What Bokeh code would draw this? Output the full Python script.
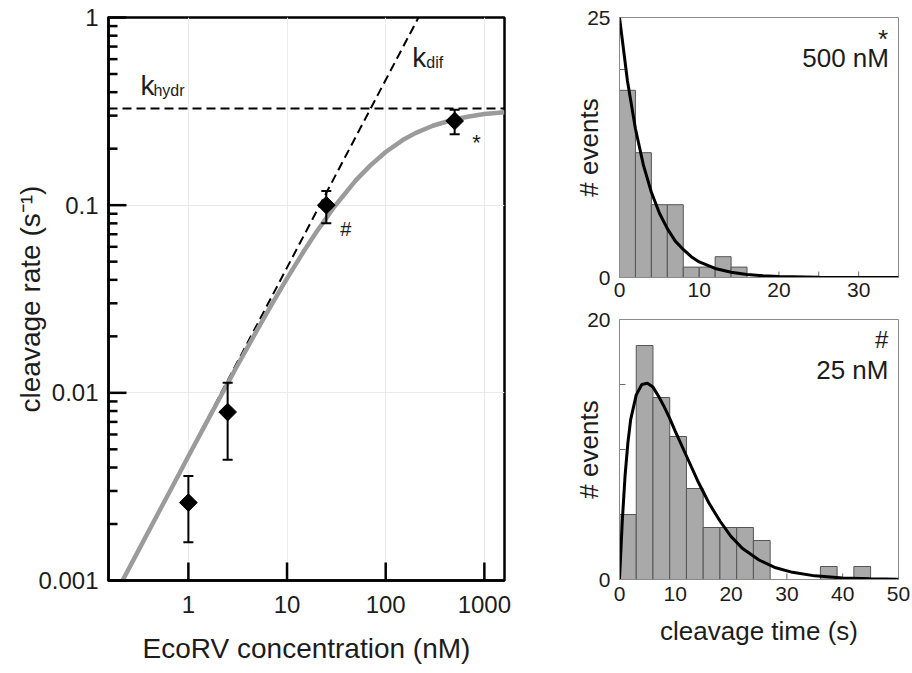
import numpy as np
from bokeh.plotting import figure
from bokeh.layouts import row, column
from bokeh.models import (Range1d, FixedTicker, CustomJSTickFormatter, Whisker,
                          TeeHead, Span, ColumnDataSource, Label)
from bokeh.embed import file_html
from bokeh.resources import INLINE

# ---------------- data ----------------
# left panel: cleavage rate vs EcoRV concentration
conc_nM = [1.0, 2.5, 25.0, 500.0]
rate = [0.0026, 0.0079, 0.100, 0.281]
rate_lo = [0.0016, 0.0044, 0.080, 0.239]
rate_hi = [0.0036, 0.0113, 0.119, 0.322]
k_hydr = 0.327
kdif_conc = [1.0, 215.0]
kdif_rate = [0.00465, 1.0]
fit_conc = [0.2, 0.3, 0.5, 0.7, 1, 1.5, 2, 3, 5, 7, 10, 15, 20, 30, 50, 70,
            100, 150, 200, 300, 500, 700, 1000, 1600]
fit_rate = [0.00093, 0.00139, 0.00231, 0.00322, 0.00459, 0.00683, 0.00905,
            0.0134, 0.0217, 0.0296, 0.0407, 0.0575, 0.0724, 0.0978, 0.136,
            0.163, 0.192, 0.223, 0.242, 0.265, 0.287, 0.297, 0.306, 0.313]
left_yticks = [0.001, 0.01, 0.1, 1]
left_yminor = [m * 10.0 ** d for d in (-3, -2, -1) for m in range(2, 10)]
left_xticks = [1, 10, 100, 1000]

# top-right histogram: 500 nM
h500_edges = [0, 2, 4, 6, 8, 10, 12, 14, 16]
h500_counts = [18, 12, 7, 7, 1, 1, 2, 1]
h500_fit_t = [0, 1, 2, 3, 4, 5, 6, 7, 8, 9, 10, 12, 14, 16, 18, 20, 25, 30, 35]
h500_fit_n = [25, 18.9, 14.3, 10.8, 8.2, 6.2, 4.7, 3.5, 2.7, 2.0, 1.5, 0.87,
              0.5, 0.28, 0.16, 0.09, 0.02, 0.005, 0.001]
h500_xticks = [0, 10, 20, 30]
h500_xminor = [5, 10, 15, 20, 25, 30]
h500_yticks = [0, 25]
h500_yminor = [5, 10, 15, 20]

# bottom-right histogram: 25 nM
h25_edges = [0, 3, 6, 9, 12, 15, 18, 21, 24, 27, 30, 33, 36, 39, 42, 45]
h25_counts = [5, 18, 14, 11, 7, 4, 4, 4, 3, 0, 0, 0, 1, 0, 1]
h25_fit_t = [0, 0.5, 1, 1.5, 2, 3, 4, 5, 6, 7, 8, 9, 10, 12, 14, 16, 18, 20,
             22, 25, 28, 31, 35, 40, 45, 50]
h25_fit_n = [0, 4.5, 8.0, 10.5, 12.3, 14.2, 15.0, 15.1, 14.8, 14.1, 13.3, 12.4,
             11.4, 9.5, 7.6, 5.9, 4.5, 3.3, 2.4, 1.5, 0.9, 0.55, 0.28, 0.12,
             0.05, 0.02]
h25_xticks = [0, 10, 20, 30, 40, 50]
h25_xminor = [10, 20, 30, 40]
h25_yticks = [0, 20]
h25_yminor = [5, 10, 15]

FONT = "Liberation Sans"
TXT = "#1c1c1c"

# ---------------- left panel ----------------
FRAME_W, FRAME_H = 396, 563
XR = Range1d(0.155, 1600)
YR = Range1d(0.001, 1)
p = figure(width=556, height=673, x_axis_type="log", y_axis_type="log",
           x_range=XR, y_range=YR,
           output_backend="svg", toolbar_location=None,
           min_border_left=108, min_border_right=52, min_border_top=17,
           min_border_bottom=93)
p.background_fill_color = "white"
p.border_fill_color = "white"
p.outline_line_color = "black"
p.outline_line_width = 2.5

p.yaxis.ticker = FixedTicker(ticks=left_yticks, minor_ticks=[])
p.xaxis.ticker = FixedTicker(ticks=left_xticks, minor_ticks=[])
p.yaxis.formatter = CustomJSTickFormatter(code="return String(tick);")
p.xaxis.formatter = CustomJSTickFormatter(code="return String(tick);")

for ax in (p.xaxis[0], p.yaxis[0]):
    ax.axis_line_color = "black"
    ax.axis_line_width = 2.5
    ax.major_tick_line_color = None
    ax.minor_tick_line_color = None
    ax.major_tick_in = 0
    ax.major_tick_out = 0
    ax.minor_tick_in = 0
    ax.minor_tick_out = 0
    ax.major_label_text_font = FONT
    ax.major_label_text_font_size = "24px"
    ax.major_label_text_color = TXT
    ax.axis_label_text_font = FONT
    ax.axis_label_text_font_size = "28px"
    ax.axis_label_text_font_style = "normal"
    ax.axis_label_text_color = TXT

p.xaxis.axis_label = "EcoRV concentration (nM)"
p.yaxis.axis_label = "cleavage rate (s\u207b\u00b9)"
p.xaxis.major_label_standoff = 15
p.yaxis.major_label_standoff = 10
p.xaxis.axis_label_standoff = 17
p.yaxis.axis_label_standoff = -11

p.xgrid.grid_line_color = "#ebebeb"
p.ygrid.grid_line_color = "#ebebeb"

# inward tick marks as short segments starting just outside the frame edge
px_per_dec_x = FRAME_W / np.log10(XR.end / XR.start)
px_per_dec_y = FRAME_H / np.log10(YR.end / YR.start)


def xfac(px):
    return 10 ** (px / px_per_dec_x)


def yfac(px):
    return 10 ** (px / px_per_dec_y)


x_out = XR.start / xfac(1)
p.segment(x0=[x_out] * len(left_yticks), y0=left_yticks,
          x1=[XR.start * xfac(18)] * len(left_yticks), y1=left_yticks,
          line_color="black", line_width=2.5, level="overlay")
p.segment(x0=[x_out] * len(left_yminor), y0=left_yminor,
          x1=[XR.start * xfac(9)] * len(left_yminor), y1=left_yminor,
          line_color="black", line_width=2.5, level="overlay")
p.segment(x0=left_xticks, y0=[YR.start] * len(left_xticks),
          x1=left_xticks, y1=[YR.start * yfac(18)] * len(left_xticks),
          line_color="black", line_width=2.5)

# k_dif asymptote (dashed)
p.line(kdif_conc, kdif_rate, line_color="black", line_width=2, line_dash="9 5")
# k_hydr asymptote (dashed)
p.add_layout(Span(location=k_hydr, dimension="width", line_color="black",
                  line_width=2, line_dash="9 5", level="glyph"))
# fit curve
p.line(fit_conc, fit_rate, line_color="#9b9b9b", line_width=4.5)

src = ColumnDataSource(dict(x=conc_nM, y=rate, lo=rate_lo, hi=rate_hi))
p.add_layout(Whisker(base="x", lower="lo", upper="hi", source=src,
                     line_color="black", line_width=2, level="glyph",
                     upper_head=TeeHead(size=10, line_width=2, line_color="black"),
                     lower_head=TeeHead(size=10, line_width=2, line_color="black")))
p.scatter("x", "y", source=src, marker="square", angle=np.pi / 4, size=12.5,
          fill_color="black", line_color="black")


def lab(fig, x, y, text, size, align="left"):
    fig.add_layout(Label(x=x, y=y, text=text, text_font=FONT,
                         text_font_size=size, text_color=TXT,
                         text_align=align, text_baseline="alphabetic"))


lab(p, 0.327, 0.435, "k", "28px")
lab(p, 0.442, 0.409, "hydr", "16px")
lab(p, 186, 0.612, "k", "28px")
lab(p, 258, 0.577, "dif", "16px")
lab(p, 34.7, 0.0745, "#", "20px")
lab(p, 754, 0.216, "*", "22px")


# ---------------- histograms ----------------
def hist_fig(height, xr, yr, top, bottom, xt, xminor, yt, yminor_, xstand):
    h = figure(width=356, height=height, x_range=Range1d(*xr), y_range=Range1d(*yr),
               output_backend="svg", toolbar_location=None,
               min_border_left=63, min_border_right=14, min_border_top=top,
               min_border_bottom=bottom)
    h.background_fill_color = "white"
    h.border_fill_color = "white"
    h.outline_line_color = "#8a8a8a"
    h.outline_line_width = 1
    h.xgrid.visible = False
    h.ygrid.visible = False
    h.xaxis.ticker = FixedTicker(ticks=xt, minor_ticks=[])
    h.yaxis.ticker = FixedTicker(ticks=yt, minor_ticks=[])
    for ax in (h.xaxis[0], h.yaxis[0]):
        ax.axis_line_color = "#8a8a8a"
        ax.axis_line_width = 1
        ax.major_tick_line_color = None
        ax.minor_tick_line_color = None
        ax.major_tick_in = 0
        ax.major_tick_out = 0
        ax.minor_tick_in = 0
        ax.minor_tick_out = 0
        ax.major_label_text_font = FONT
        ax.major_label_text_font_size = "21px"
        ax.major_label_text_color = TXT
        ax.axis_label_text_font = FONT
        ax.axis_label_text_font_size = "26px"
        ax.axis_label_text_font_style = "normal"
        ax.axis_label_text_color = TXT
    h.xaxis.major_label_standoff = xstand
    h.yaxis.major_label_standoff = 9
    h.yaxis.axis_label = "# events"
    h.yaxis.axis_label_standoff = -20
    # small inward tick marks (drawn beneath the bars)
    h.scatter(xminor, [yr[0]] * len(xminor), marker="dash", size=12,
              angle=np.pi / 2, line_color="#6a6a6a", line_width=1)
    h.scatter([xr[0]] * len(yminor_), yminor_, marker="dash", size=12,
              line_color="#6a6a6a", line_width=1)
    return h


h1 = hist_fig(307, (0, 35), (0, 25), 17, 30, h500_xticks, h500_xminor,
              h500_yticks, h500_yminor, 5)
h1.quad(left=h500_edges[:-1], right=h500_edges[1:], top=h500_counts, bottom=0,
        fill_color="#a9a9a9", line_color="#555555", line_width=1)
h1.line(h500_fit_t, h500_fit_n, line_color="black", line_width=3)
lab(h1, 33.7, 22.9, "*", "26px", "right")
lab(h1, 33.8, 21.1, "500 nM", "26px", "right")

h2 = hist_fig(366, (0, 50), (0, 20), 12, 94, h25_xticks, h25_xminor,
              h25_yticks, h25_yminor, 7)
h2.quad(left=h25_edges[:-1], right=h25_edges[1:], top=h25_counts, bottom=0,
        fill_color="#a9a9a9", line_color="#555555", line_width=1)
h2.line(h25_fit_t, h25_fit_n, line_color="black", line_width=3)
h2.xaxis.axis_label = "cleavage time (s)"
h2.xaxis.axis_label_standoff = 12
lab(h2, 48.2, 18.5, "#", "24px", "right")
lab(h2, 48.2, 16.1, "25 nM", "26px", "right")

layout = row(p, column(h1, h2))
open("out.html", "w").write(file_html(layout, INLINE))
